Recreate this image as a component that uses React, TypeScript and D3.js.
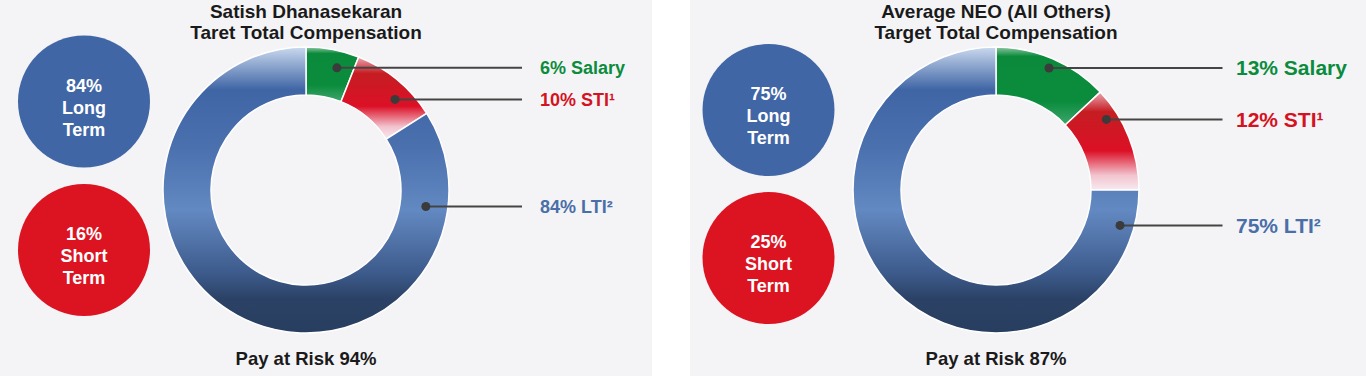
import React from "react";
import * as d3 from "d3";

// ---------- DATA ----------
const categories = ["Salary", "STI¹", "LTI²"];
const satishValues = [6, 10, 84];
const neoValues = [13, 12, 75];
const panelTitles = [
  ["Satish Dhanasekaran", "Taret Total Compensation"],
  ["Average NEO (All Others)", "Target Total Compensation"],
];
const longTermPct = [84, 75];
const shortTermPct = [16, 25];
const payAtRisk = [94, 87];

// ---------- LAYOUT ----------
const W = 1366;
const H = 376;
const FONT = "'Liberation Sans', Arial, Helvetica, sans-serif";
const layouts = [
  {
    panelX: 0, panelW: 652, cx: 306, cy: 190,
    circleCx: 84, longCy: 101.5, shortCy: 250,
    lineEnd: 522, textX: 540, labelSize: 18,
    dotFrac: [0.657, 0.636, 0.133], dotR: [126, 127, 121],
  },
  {
    panelX: 690, panelW: 676, cx: 996, cy: 190,
    circleCx: 768.5, longCy: 110, shortCy: 258,
    lineEnd: 1222.5, textX: 1236, labelSize: 21,
    dotFrac: [0.502, 0.245, 0.059], dotR: [133, 131, 129],
  },
];
const INNER = 95;
const OUTER = 143;
const CIRCLE_R = 66;
const labelColors = ["#0b8c3c", "#d5121f", "#4a6ea8"];

function Panel({ i, values }: { i: number; values: number[] }) {
  const L = layouts[i];
  const pie = d3.pie<number>().sort(null).value((d) => d);
  const arcs = pie(values);
  const arcGen = d3.arc<d3.PieArcDatum<number>>().innerRadius(INNER).outerRadius(OUTER);
  const fills = [`url(#sal${i})`, `url(#sti${i})`, `url(#lti${i})`];

  const circleText = (cy: number, lines: string[]) =>
    lines.map((t, k) => (
      <text
        key={k}
        x={L.circleCx}
        y={cy + 6 + (k - 1) * 22}
        dy="0.35em"
        textAnchor="middle"
        fill="#fff"
        fontFamily={FONT}
        fontWeight="bold"
        fontSize={18}
      >
        {t}
      </text>
    ));

  return (
    <g>
      <defs>
        <linearGradient id={`lti${i}`} gradientUnits="userSpaceOnUse" x1={0} x2={0} y1={-OUTER} y2={OUTER}>
          <stop offset="0" stopColor="#cad9ee" />
          <stop offset="0.15" stopColor="#3f65a5" />
          <stop offset="0.35" stopColor="#4a70ae" />
          <stop offset="0.57" stopColor="#6389c2" />
          <stop offset="0.79" stopColor="#3d5b8c" />
          <stop offset="0.88" stopColor="#2b4266" />
          <stop offset="1" stopColor="#283e60" />
        </linearGradient>
        <linearGradient id={`sti${i}`} x1={0} x2={0} y1={0} y2={1}>
          <stop offset="0" stopColor="#eaa6b2" />
          <stop offset="0.2" stopColor="#c51d22" />
          <stop offset="0.6" stopColor="#dc1026" />
          <stop offset="0.85" stopColor="#f2c4cf" />
          <stop offset="1" stopColor="#f8e9ef" />
        </linearGradient>
        <linearGradient id={`sal${i}`} x1={0} x2={0} y1={0} y2={1}>
          <stop offset="0" stopColor="#8fc8a3" />
          <stop offset="0.12" stopColor="#0b8a3b" />
          <stop offset="0.7" stopColor="#0b8c3d" />
          <stop offset="1" stopColor="#3ea66c" />
        </linearGradient>
      </defs>
      <rect x={L.panelX} y={0} width={L.panelW} height={H} fill="#f4f4f7" />

      {/* Titles */}
      {panelTitles[i].map((t, k) => (
        <text
          key={k}
          x={L.cx}
          y={11 + k * 21.5}
          dy="0.35em"
          textAnchor="middle"
          fill="#1a1a1a"
          fontFamily={FONT}
          fontWeight="bold"
          fontSize={19}
        >
          {t}
        </text>
      ))}

      {/* Term circles */}
      <circle cx={L.circleCx} cy={L.longCy} r={CIRCLE_R} fill="#4066a5" />
      {circleText(L.longCy, [`${longTermPct[i]}%`, "Long", "Term"])}
      <circle cx={L.circleCx} cy={L.shortCy} r={CIRCLE_R} fill="#dc1421" />
      {circleText(L.shortCy, [`${shortTermPct[i]}%`, "Short", "Term"])}

      {/* Donut */}
      <g transform={`translate(${L.cx},${L.cy})`}>
        {arcs.map((a, k) => (
          <path key={k} d={arcGen(a) || ""} fill={fills[k]} stroke="#ffffff" strokeWidth={1.5} />
        ))}
      </g>

      {/* Leaders & labels */}
      {arcs.map((a, k) => {
        const ang = a.startAngle + (a.endAngle - a.startAngle) * L.dotFrac[k];
        const dx = L.cx + Math.sin(ang) * L.dotR[k];
        const dy = L.cy - Math.cos(ang) * L.dotR[k];
        return (
          <g key={k}>
            <line x1={dx} y1={dy} x2={L.lineEnd} y2={dy} stroke="#444" strokeWidth={2} />
            <circle cx={dx} cy={dy} r={4.5} fill="#3b3b3b" />
            <text
              x={L.textX}
              y={dy}
              dy="0.35em"
              fill={labelColors[k]}
              fontFamily={FONT}
              fontWeight="bold"
              fontSize={L.labelSize}
            >
              {`${a.data}% ${categories[k]}`}
            </text>
          </g>
        );
      })}

      {/* Pay at risk */}
      <text
        x={L.cx}
        y={359}
        dy="0.35em"
        textAnchor="middle"
        fill="#1a1a1a"
        fontFamily={FONT}
        fontWeight="bold"
        fontSize={18.5}
      >
        {`Pay at Risk ${payAtRisk[i]}%`}
      </text>
    </g>
  );
}

export default function App() {
  return (
    <div style={{ position: "fixed", left: 0, top: 0, width: W, height: H }}>
      <svg width={W} height={H} style={{ display: "block", background: "#ffffff" }}>
        <Panel i={0} values={satishValues} />
        <Panel i={1} values={neoValues} />
      </svg>
    </div>
  );
}
